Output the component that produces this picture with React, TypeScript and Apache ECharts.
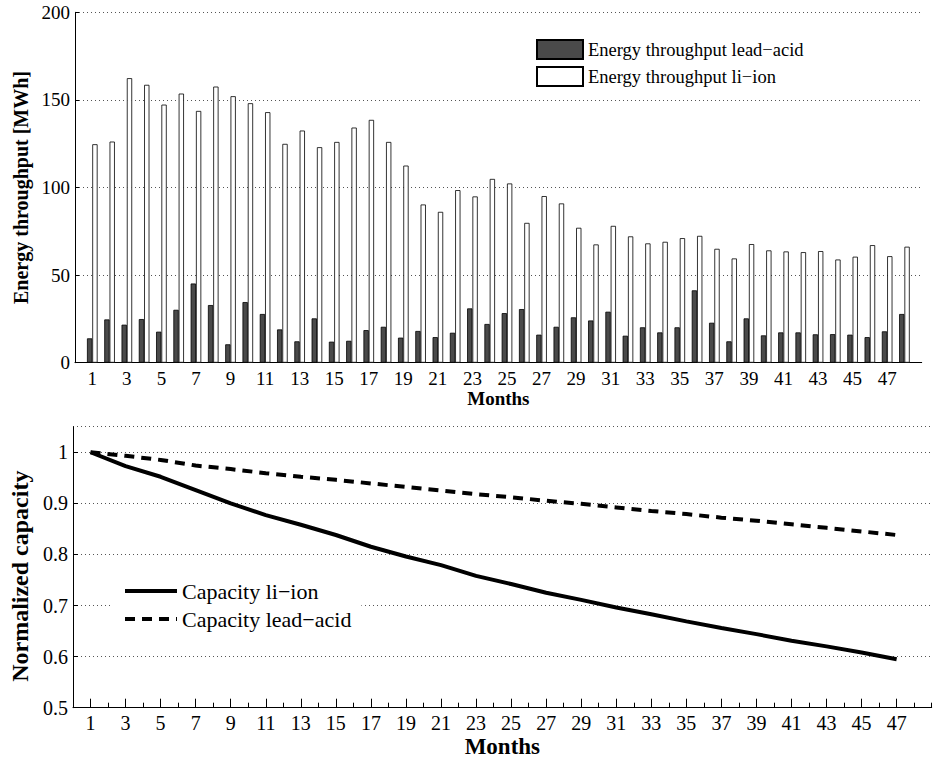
import React, { useEffect, useRef } from "react";
import * as echarts from "echarts";

const barMonths = [1, 2, 3, 4, 5, 6, 7, 8, 9, 10, 11, 12, 13, 14, 15, 16, 17, 18, 19, 20, 21, 22, 23, 24, 25, 26, 27, 28, 29, 30, 31, 32, 33, 34, 35, 36, 37, 38, 39, 40, 41, 42, 43, 44, 45, 46, 47, 48];
const throughputLeadAcid = [13.9, 24.7, 21.7, 24.9, 17.7, 30.2, 45.2, 32.9, 10.5, 34.6, 27.8, 19.0, 12.2, 25.3, 12.0, 12.5, 18.6, 20.5, 14.3, 18.1, 14.6, 17.1, 31.0, 22.1, 28.3, 30.6, 16.0, 20.5, 25.9, 24.1, 29.1, 15.4, 20.2, 17.3, 20.2, 41.3, 22.8, 12.2, 25.3, 15.6, 17.3, 17.3, 16.2, 16.3, 16.0, 14.6, 17.9, 27.8];
const throughputLiIon = [124.7, 126.2, 162.4, 158.6, 147.3, 153.6, 143.7, 157.6, 152.1, 148.1, 143.0, 124.9, 132.5, 123.0, 126.0, 134.2, 138.6, 126.0, 112.5, 90.3, 86.1, 98.5, 94.9, 104.9, 102.3, 79.8, 95.1, 90.9, 77.0, 67.5, 78.1, 72.1, 68.1, 69.0, 71.1, 72.4, 65.0, 59.5, 67.7, 64.1, 63.5, 63.1, 63.7, 58.9, 60.5, 67.1, 60.8, 66.2];

const capMonths = [1, 3, 5, 7, 9, 11, 13, 15, 17, 19, 21, 23, 25, 27, 29, 31, 33, 35, 37, 39, 41, 43, 45, 47];
const capacityLiIon = [1.0, 0.973, 0.952, 0.926, 0.9, 0.877, 0.858, 0.838, 0.815, 0.796, 0.779, 0.758, 0.742, 0.725, 0.711, 0.696, 0.683, 0.669, 0.656, 0.644, 0.631, 0.62, 0.608, 0.595];
const capacityLeadAcid = [1.0, 0.993, 0.985, 0.974, 0.967, 0.959, 0.952, 0.946, 0.939, 0.932, 0.925, 0.918, 0.912, 0.905, 0.899, 0.892, 0.885, 0.879, 0.872, 0.866, 0.859, 0.852, 0.845, 0.838];

const topTicks = [0, 50, 100, 150, 200];
const seriesNames = {
  barLead: "Energy throughput lead\u2212acid",
  barLi: "Energy throughput li\u2212ion",
  capLi: "Capacity li\u2212ion",
  capLead: "Capacity lead\u2212acid",
};

const FONT = "'Liberation Serif', 'Times New Roman', serif";
const tickSlots = Array.from({ length: 50 }, (_, i) => String(i));

const oddLabel = (v: number) => (Number.isInteger(v) && v % 2 === 1 && v <= 47 ? String(v) : "");
const gridLine = { show: true, lineStyle: { color: "#555", type: [1, 3] as any, width: 1 } };
const axisLine = { show: true, lineStyle: { color: "#000", width: 1 } };
const leadDash = [10, 7];

export default function App() {
  const ref = useRef<HTMLDivElement>(null);
  useEffect(() => {
    const chart = echarts.init(ref.current!, null, { renderer: "svg" });
    const option: any = {
      animation: false,
      backgroundColor: "#fff",
      textStyle: { fontFamily: FONT, color: "#000" },
      grid: [
        { left: 75, top: 12.3, width: 846.7, height: 350.4 },
        { left: 68.3, top: 426.7, width: 863.4, height: 281 },
      ],
      legend: [
        {
          data: [seriesNames.barLead, seriesNames.barLi],
          orient: "vertical",
          left: 536,
          top: 39,
          padding: 0,
          itemWidth: 46,
          itemHeight: 19,
          itemGap: 6,
          icon: "rect",
          textStyle: { fontFamily: FONT, fontSize: 18.5, color: "#000" },
        },
        {
          data: [
            { name: seriesNames.capLi, lineStyle: { width: 4, color: "#000", type: "solid" } },
            { name: seriesNames.capLead, lineStyle: { width: 4, color: "#000", type: leadDash } },
          ],
          orient: "vertical",
          left: 110,
          top: 572,
          padding: [8, 10, 8, 13],
          backgroundColor: "#fff",
          itemWidth: 52,
          itemHeight: 14,
          itemGap: 6,
          itemStyle: { color: "rgba(0,0,0,0)", borderWidth: 0, opacity: 0 },
          textStyle: { fontFamily: FONT, fontSize: 22, color: "#000" },
        },
      ],
      xAxis: [
        {
          type: "value",
          gridIndex: 0,
          position: "bottom",
          min: 0,
          max: 49,
          interval: 1,
          axisLine,
          axisTick: { show: false },
          axisLabel: { formatter: oddLabel, fontSize: 19, margin: 6, color: "#000", fontFamily: FONT },
          splitLine: { show: false },
          name: "Months",
          nameLocation: "middle",
          nameGap: 23,
          nameTextStyle: { fontFamily: FONT, fontSize: 19, fontWeight: "bold", color: "#000" },
        },
        {
          type: "value",
          gridIndex: 1,
          position: "bottom",
          min: 0,
          max: 49,
          interval: 1,
          axisLine,
          axisTick: { show: true, inside: true, length: 5, lineStyle: { color: "#000" } },
          axisLabel: { formatter: oddLabel, fontSize: 20, margin: 5, color: "#000", fontFamily: FONT },
          splitLine: { show: false },
          name: "Months",
          nameLocation: "middle",
          nameGap: 27,
          nameTextStyle: { fontFamily: FONT, fontSize: 23, fontWeight: "bold", color: "#000" },
        },
        {
          type: "category",
          gridIndex: 1,
          position: "bottom",
          offset: 0,
          data: tickSlots,
          boundaryGap: false,
          axisLine: { show: false },
          axisLabel: { show: false },
          axisTick: {
            show: true,
            inside: true,
            length: 9,
            interval: (i: number) => i % 2 === 1 && i <= 47,
            lineStyle: { color: "#000" },
          },
          splitLine: { show: false },
        },
      ],
      yAxis: [
        {
          type: "value",
          gridIndex: 0,
          min: topTicks[0],
          max: topTicks[topTicks.length - 1],
          interval: 50,
          axisLine,
          axisTick: { show: true, inside: true, length: 4, lineStyle: { color: "#000" } },
          axisLabel: { fontSize: 19, margin: 5, color: "#000", fontFamily: FONT },
          splitLine: gridLine,
          name: "Energy throughput [MWh]",
          nameLocation: "middle",
          nameRotate: 90,
          nameGap: 32,
          nameTextStyle: { fontFamily: FONT, fontSize: 20, fontWeight: "bold", color: "#000" },
        },
        {
          type: "value",
          gridIndex: 1,
          min: 0.5,
          max: 1.05,
          interval: 0.1,
          axisLine,
          axisTick: { show: true, inside: true, length: 5, lineStyle: { color: "#000" } },
          axisLabel: {
            fontSize: 20,
            margin: 5,
            color: "#000",
            fontFamily: FONT,
            showMaxLabel: false,
            formatter: (v: number) => String(Number(v.toFixed(2))),
          },
          splitLine: gridLine,
          name: "Normalized capacity",
          nameLocation: "middle",
          nameRotate: 90,
          nameGap: 41,
          nameTextStyle: { fontFamily: FONT, fontSize: 24, fontWeight: "bold", color: "#000", padding: [0, 18, 0, 0] },
        },
      ],
      series: [
        {
          type: "bar",
          name: seriesNames.barLead,
          xAxisIndex: 0,
          yAxisIndex: 0,
          barWidth: 5.3,
          barGap: "0%",
          itemStyle: { color: "#4a4a4a", borderColor: "#000", borderWidth: 0.8 },
          data: barMonths.map((m, i) => [m, throughputLeadAcid[i]]),
        },
        {
          type: "bar",
          name: seriesNames.barLi,
          xAxisIndex: 0,
          yAxisIndex: 0,
          barWidth: 5.3,
          barGap: "0%",
          itemStyle: { color: "#fff", borderColor: "#000", borderWidth: 0.8 },
          data: barMonths.map((m, i) => [m, throughputLiIon[i]]),
        },
        {
          type: "line",
          name: seriesNames.capLi,
          xAxisIndex: 1,
          yAxisIndex: 1,
          symbol: "none",
          itemStyle: { color: "#000" },
          lineStyle: { color: "#000", width: 4 },
          data: capMonths.map((m, i) => [m, capacityLiIon[i]]),
        },
        {
          type: "line",
          name: seriesNames.capLead,
          xAxisIndex: 1,
          yAxisIndex: 1,
          symbol: "none",
          itemStyle: { color: "#000" },
          lineStyle: { color: "#000", width: 4, type: leadDash },
          data: capMonths.map((m, i) => [m, capacityLeadAcid[i]]),
        },
      ],
    };
    chart.setOption(option);
    return () => chart.dispose();
  }, []);
  return (
    <div
      ref={ref}
      style={{ position: "fixed", left: 0, top: 0, width: 937, height: 762, background: "#fff" }}
    />
  );
}
